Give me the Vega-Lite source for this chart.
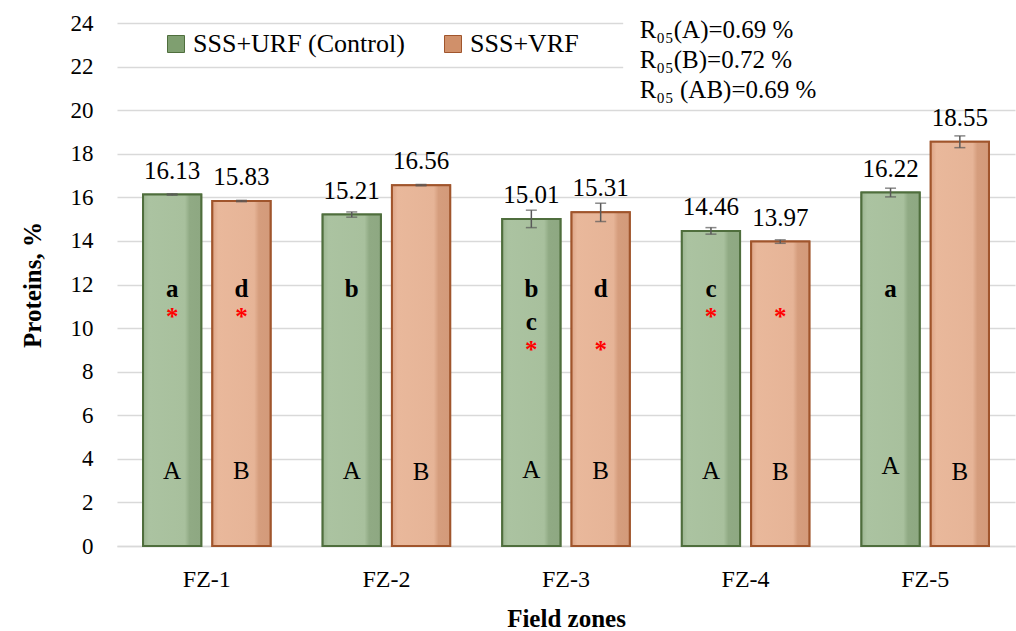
{
  "$schema": "https://vega.github.io/schema/vega-lite/v6.json",
  "width": 898,
  "height": 523,
  "autosize": {"type": "none"},
  "padding": {"left": 117, "top": 23, "right": 1, "bottom": 85},
  "background": "white",
  "config": {
    "view": {"stroke": null},
    "font": "Liberation Serif",
    "text": {"font": "Liberation Serif"},
    "axis": {"labelFont": "Liberation Serif", "titleFont": "Liberation Serif"},
    "legend": {
      "orient": "none",
      "legendX": 46,
      "legendY": 8,
      "direction": "horizontal",
      "labelFont": "Liberation Serif",
      "labelFontSize": 26,
      "labelLimit": 500,
      "labelColor": "#000000",
      "symbolType": "square",
      "symbolSize": 289,
      "symbolStrokeWidth": 1,
      "columnPadding": 35,
      "labelOffset": 4,
      "padding": 0
    }
  },
  "datasets": {
    "bars": [
      {"zone": "FZ-1", "group": "SSS+URF (Control)", "value": 16.13, "lo": 16.10, "hi": 16.16},
      {"zone": "FZ-1", "group": "SSS+VRF", "value": 15.83, "lo": 15.80, "hi": 15.86},
      {"zone": "FZ-2", "group": "SSS+URF (Control)", "value": 15.21, "lo": 15.09, "hi": 15.33},
      {"zone": "FZ-2", "group": "SSS+VRF", "value": 16.56, "lo": 16.53, "hi": 16.59},
      {"zone": "FZ-3", "group": "SSS+URF (Control)", "value": 15.01, "lo": 14.61, "hi": 15.41},
      {"zone": "FZ-3", "group": "SSS+VRF", "value": 15.31, "lo": 14.89, "hi": 15.73},
      {"zone": "FZ-4", "group": "SSS+URF (Control)", "value": 14.46, "lo": 14.31, "hi": 14.61},
      {"zone": "FZ-4", "group": "SSS+VRF", "value": 13.97, "lo": 13.89, "hi": 14.05},
      {"zone": "FZ-5", "group": "SSS+URF (Control)", "value": 16.22, "lo": 16.02, "hi": 16.42},
      {"zone": "FZ-5", "group": "SSS+VRF", "value": 18.55, "lo": 18.28, "hi": 18.82}
    ],
    "letters": [
      {"zone": "FZ-1", "group": "SSS+URF (Control)", "kind": "lower", "t": "a", "yv": 11.8},
      {"zone": "FZ-1", "group": "SSS+VRF", "kind": "lower", "t": "d", "yv": 11.8},
      {"zone": "FZ-2", "group": "SSS+URF (Control)", "kind": "lower", "t": "b", "yv": 11.8},
      {"zone": "FZ-3", "group": "SSS+URF (Control)", "kind": "lower", "t": "b", "yv": 11.8},
      {"zone": "FZ-3", "group": "SSS+URF (Control)", "kind": "lower", "t": "c", "yv": 10.3},
      {"zone": "FZ-3", "group": "SSS+VRF", "kind": "lower", "t": "d", "yv": 11.8},
      {"zone": "FZ-4", "group": "SSS+URF (Control)", "kind": "lower", "t": "c", "yv": 11.8},
      {"zone": "FZ-5", "group": "SSS+URF (Control)", "kind": "lower", "t": "a", "yv": 11.8},
      {"zone": "FZ-1", "group": "SSS+URF (Control)", "kind": "star", "t": "*", "yv": 10.67},
      {"zone": "FZ-1", "group": "SSS+VRF", "kind": "star", "t": "*", "yv": 10.67},
      {"zone": "FZ-3", "group": "SSS+URF (Control)", "kind": "star", "t": "*", "yv": 9.2},
      {"zone": "FZ-3", "group": "SSS+VRF", "kind": "star", "t": "*", "yv": 9.2},
      {"zone": "FZ-4", "group": "SSS+URF (Control)", "kind": "star", "t": "*", "yv": 10.67},
      {"zone": "FZ-4", "group": "SSS+VRF", "kind": "star", "t": "*", "yv": 10.67},
      {"zone": "FZ-1", "group": "SSS+URF (Control)", "kind": "upper", "t": "A", "yv": 3.45},
      {"zone": "FZ-1", "group": "SSS+VRF", "kind": "upper", "t": "B", "yv": 3.45},
      {"zone": "FZ-2", "group": "SSS+URF (Control)", "kind": "upper", "t": "A", "yv": 3.45},
      {"zone": "FZ-2", "group": "SSS+VRF", "kind": "upper", "t": "B", "yv": 3.4},
      {"zone": "FZ-3", "group": "SSS+URF (Control)", "kind": "upper", "t": "A", "yv": 3.5},
      {"zone": "FZ-3", "group": "SSS+VRF", "kind": "upper", "t": "B", "yv": 3.45},
      {"zone": "FZ-4", "group": "SSS+URF (Control)", "kind": "upper", "t": "A", "yv": 3.45},
      {"zone": "FZ-4", "group": "SSS+VRF", "kind": "upper", "t": "B", "yv": 3.4},
      {"zone": "FZ-5", "group": "SSS+URF (Control)", "kind": "upper", "t": "A", "yv": 3.65},
      {"zone": "FZ-5", "group": "SSS+VRF", "kind": "upper", "t": "B", "yv": 3.4}
    ],
    "box": [
      {"zone": "FZ-4", "y1": 20.4, "y2": 24.15},
      {"zone": "FZ-5", "y1": 20.4, "y2": 24.15}
    ],
    "notes": [
      {"zone": "FZ-3", "group": "SSS+VRF", "yv": 23.68, "t": "R₀₅(A)=0.69 %"},
      {"zone": "FZ-3", "group": "SSS+VRF", "yv": 22.3, "t": "R₀₅(B)=0.72 %"},
      {"zone": "FZ-3", "group": "SSS+VRF", "yv": 20.93, "t": "R₀₅ (AB)=0.69 %"}
    ]
  },
  "layer": [
    {
      "data": {"name": "bars"},
      "mark": {"type": "bar", "strokeWidth": 2},
      "encoding": {
        "x": {
          "field": "zone", "type": "nominal", "title": "Field zones",
          "scale": {"paddingInner": 0.29, "paddingOuter": 0.145},
          "axis": {
            "labelAngle": 0, "labelFont": "Liberation Serif", "labelFontSize": 24, "labelColor": "#000000",
            "labelPadding": 21, "ticks": false, "domainColor": "#d9d9d9", "domainWidth": 1.3,
            "titleFont": "Liberation Serif", "titleFontSize": 25, "titleFontWeight": "bold", "titleColor": "#000000",
            "titlePadding": 15
          }
        },
        "xOffset": {
          "field": "group", "type": "nominal",
          "sort": ["SSS+URF (Control)", "SSS+VRF"],
          "scale": {"paddingInner": 0.16, "paddingOuter": 0}
        },
        "y": {
          "field": "value", "type": "quantitative", "title": "Proteins, %",
          "scale": {"domain": [0, 24], "nice": false},
          "axis": {
            "values": [0, 2, 4, 6, 8, 10, 12, 14, 16, 18, 20, 22, 24],
            "labelFont": "Liberation Serif", "labelFontSize": 23, "labelColor": "#000000", "labelPadding": 24,
            "ticks": false, "domain": false, "gridColor": "#d9d9d9", "gridWidth": 1.3,
            "titleFont": "Liberation Serif", "titleFontSize": 25, "titleFontWeight": "bold", "titleColor": "#000000",
            "titlePadding": 25
          }
        },
        "color": {
          "field": "group", "type": "nominal",
          "scale": {"domain": ["SSS+URF (Control)", "SSS+VRF"], "range": ["#7f9f70", "#d0906a"]},
          "legend": {"title": null}
        },
        "stroke": {
          "field": "group", "type": "nominal",
          "scale": {"domain": ["SSS+URF (Control)", "SSS+VRF"], "range": ["#4f6e3d", "#a0552c"]},
          "legend": null
        }
      }
    },
    {
      "data": {"name": "bars"},
      "transform": [{"filter": "datum.group === 'SSS+URF (Control)'"}],
      "mark": {
        "type": "bar", "strokeWidth": 2, "stroke": "#4f6e3d",
        "fill": {"gradient": "linear", "x1": 0, "y1": 0, "x2": 1, "y2": 0,
          "stops": [
            {"offset": 0, "color": "#9bb590"},
            {"offset": 0.1, "color": "#abc3a1"},
            {"offset": 0.72, "color": "#a8c09d"},
            {"offset": 0.8, "color": "#90aa84"},
            {"offset": 1, "color": "#8ea882"}
          ]}
      },
      "encoding": {
        "x": {"field": "zone", "type": "nominal", "title": "Field zones"},
        "xOffset": {"field": "group", "type": "nominal", "sort": ["SSS+URF (Control)", "SSS+VRF"]},
        "y": {"field": "value", "type": "quantitative", "title": "Proteins, %"}
      }
    },
    {
      "data": {"name": "bars"},
      "transform": [{"filter": "datum.group === 'SSS+VRF'"}],
      "mark": {
        "type": "bar", "strokeWidth": 2, "stroke": "#a0552c",
        "fill": {"gradient": "linear", "x1": 0, "y1": 0, "x2": 1, "y2": 0,
          "stops": [
            {"offset": 0, "color": "#dda486"},
            {"offset": 0.1, "color": "#e9b89b"},
            {"offset": 0.72, "color": "#e6b497"},
            {"offset": 0.8, "color": "#d59d7d"},
            {"offset": 1, "color": "#d39a7a"}
          ]}
      },
      "encoding": {
        "x": {"field": "zone", "type": "nominal", "title": "Field zones"},
        "xOffset": {"field": "group", "type": "nominal", "sort": ["SSS+URF (Control)", "SSS+VRF"]},
        "y": {"field": "value", "type": "quantitative", "title": "Proteins, %"}
      }
    },
    {
      "data": {"name": "bars"},
      "mark": {"type": "rule", "color": "#595959", "strokeWidth": 1.5},
      "encoding": {
        "x": {"field": "zone", "type": "nominal", "title": "Field zones"},
        "xOffset": {"field": "group", "type": "nominal", "sort": ["SSS+URF (Control)", "SSS+VRF"]},
        "y": {"field": "lo", "type": "quantitative", "title": "Proteins, %"},
        "y2": {"field": "hi"}
      }
    },
    {
      "data": {"name": "bars"},
      "mark": {"type": "tick", "color": "#595959", "thickness": 1.5, "size": 11},
      "encoding": {
        "x": {"field": "zone", "type": "nominal", "title": "Field zones"},
        "xOffset": {"field": "group", "type": "nominal", "sort": ["SSS+URF (Control)", "SSS+VRF"]},
        "y": {"field": "lo", "type": "quantitative", "title": "Proteins, %"}
      }
    },
    {
      "data": {"name": "bars"},
      "mark": {"type": "tick", "color": "#595959", "thickness": 1.5, "size": 11},
      "encoding": {
        "x": {"field": "zone", "type": "nominal", "title": "Field zones"},
        "xOffset": {"field": "group", "type": "nominal", "sort": ["SSS+URF (Control)", "SSS+VRF"]},
        "y": {"field": "hi", "type": "quantitative", "title": "Proteins, %"}
      }
    },
    {
      "data": {"name": "bars"},
      "mark": {"type": "text", "fontSize": 25, "color": "#000000", "baseline": "middle", "dy": -24, "font": "Liberation Serif"},
      "encoding": {
        "x": {"field": "zone", "type": "nominal", "title": "Field zones"},
        "xOffset": {"field": "group", "type": "nominal", "sort": ["SSS+URF (Control)", "SSS+VRF"]},
        "y": {"field": "value", "type": "quantitative", "title": "Proteins, %"},
        "text": {"field": "value", "type": "quantitative", "format": ".2f"}
      }
    },
    {
      "data": {"name": "letters"},
      "transform": [{"filter": "datum.kind === 'lower'"}],
      "mark": {"type": "text", "fontSize": 25, "fontWeight": "bold", "color": "#000000", "baseline": "middle", "font": "Liberation Serif"},
      "encoding": {
        "x": {"field": "zone", "type": "nominal", "title": "Field zones"},
        "xOffset": {"field": "group", "type": "nominal", "sort": ["SSS+URF (Control)", "SSS+VRF"]},
        "y": {"field": "yv", "type": "quantitative", "title": "Proteins, %"},
        "text": {"field": "t", "type": "nominal"}
      }
    },
    {
      "data": {"name": "letters"},
      "transform": [{"filter": "datum.kind === 'star'"}],
      "mark": {"type": "text", "fontSize": 25, "fontWeight": "bold", "color": "#ff0000", "baseline": "middle", "dy": 4, "font": "Liberation Serif"},
      "encoding": {
        "x": {"field": "zone", "type": "nominal", "title": "Field zones"},
        "xOffset": {"field": "group", "type": "nominal", "sort": ["SSS+URF (Control)", "SSS+VRF"]},
        "y": {"field": "yv", "type": "quantitative", "title": "Proteins, %"},
        "text": {"field": "t", "type": "nominal"}
      }
    },
    {
      "data": {"name": "letters"},
      "transform": [{"filter": "datum.kind === 'upper'"}],
      "mark": {"type": "text", "fontSize": 25, "color": "#000000", "baseline": "middle", "font": "Liberation Serif"},
      "encoding": {
        "x": {"field": "zone", "type": "nominal", "title": "Field zones"},
        "xOffset": {"field": "group", "type": "nominal", "sort": ["SSS+URF (Control)", "SSS+VRF"]},
        "y": {"field": "yv", "type": "quantitative", "title": "Proteins, %"},
        "text": {"field": "t", "type": "nominal"}
      }
    },
    {
      "data": {"name": "box"},
      "transform": [{"filter": "datum.zone === 'FZ-4'"}],
      "mark": {"type": "bar", "color": "white", "width": {"band": 1.92}},
      "encoding": {
        "x": {"field": "zone", "type": "nominal", "title": "Field zones"},
        "y": {"field": "y1", "type": "quantitative", "title": "Proteins, %"},
        "y2": {"field": "y2"}
      }
    },
    {
      "data": {"name": "box"},
      "transform": [{"filter": "datum.zone === 'FZ-5'"}],
      "mark": {"type": "bar", "color": "white", "width": {"band": 1.5}},
      "encoding": {
        "x": {"field": "zone", "type": "nominal", "title": "Field zones"},
        "y": {"field": "y1", "type": "quantitative", "title": "Proteins, %"},
        "y2": {"field": "y2"}
      }
    },
    {
      "data": {"name": "notes"},
      "mark": {"type": "text", "fontSize": 25, "color": "#000000", "align": "left", "baseline": "middle", "dx": 39, "font": "Liberation Serif"},
      "encoding": {
        "x": {"field": "zone", "type": "nominal", "title": "Field zones"},
        "xOffset": {"field": "group", "type": "nominal", "sort": ["SSS+URF (Control)", "SSS+VRF"]},
        "y": {"field": "yv", "type": "quantitative", "title": "Proteins, %"},
        "text": {"field": "t", "type": "nominal"}
      }
    }
  ]
}
